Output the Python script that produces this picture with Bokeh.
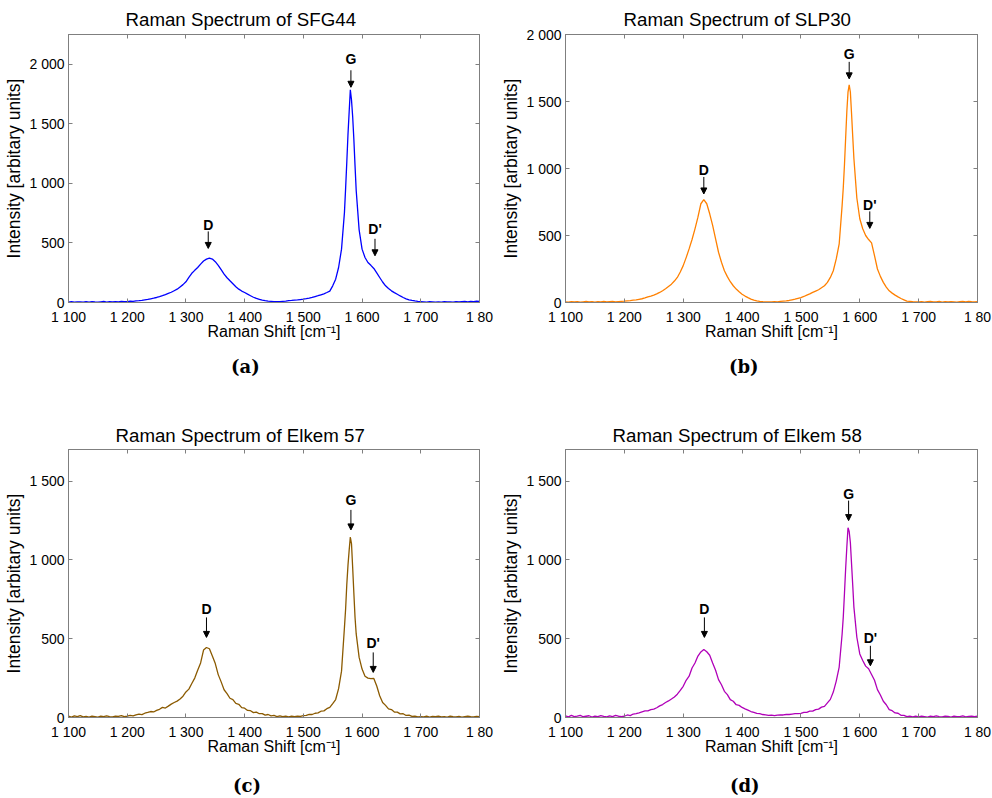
from bokeh.plotting import figure
from bokeh.models import LinearAxis, FixedTicker, Range1d, Label, Arrow, NormalHead, Div
from bokeh.layouts import column, row
from bokeh.embed import file_html
from bokeh.resources import INLINE

# ---------------- data ----------------
# sampling grid of Raman shift [cm^-1]
X = list(range(1100, 1570, 5)) + list(range(1570, 1591, 2)) + list(range(1595, 1801, 5))

SFG44 = ([4, 7, 3, 6, 5, 2, 7, 4, 8, 5, 3, 6, 9, 4, 7, 5, 8, 6, 10, 7]
         + [8, 11, 9, 13, 15, 18, 22, 26, 31, 36, 42, 49, 57, 66, 76, 86, 99, 112, 131, 150]
         + [174, 210, 245, 270, 294, 322, 348, 364, 372, 365, 343, 312, 276, 238, 208, 182, 157, 132, 112, 96]
         + [84, 70, 57, 44, 34, 27, 20, 15, 11, 9, 7, 8, 8, 10, 12, 15, 17, 20, 22, 25]
         + [28, 32, 37, 43, 50, 57, 65, 73, 84, 96, 140, 196, 294, 448]
         + [757, 960, 1180, 1410, 1600, 1785, 1700, 1560, 1370, 1149, 940]
         + [610, 448, 378, 336, 312, 286, 248, 210, 172, 140, 117, 98, 83, 69, 55, 42, 31, 22, 17, 13, 10]
         + [8, 6, 4, 7, 5, 3, 6, 4, 7, 5, 6, 4, 8, 5, 7, 9, 6, 10, 8, 11, 9])

SLP30 = ([5, 3, 7, 4, 6, 2, 5, 8, 4, 6, 3, 7, 5, 9, 4, 6, 8, 5, 7, 9]
         + [10, 12, 14, 17, 20, 24, 28, 34, 42, 48, 55, 64, 75, 88, 103, 120, 137, 160, 187, 228]
         + [275, 335, 400, 470, 550, 637, 737, 767, 737, 662, 575, 475, 375, 300, 237, 193, 155, 125, 100, 80]
         + [62, 48, 36, 25, 18, 12, 8, 6, 5, 4, 5, 6, 5, 8, 10, 12, 15, 20, 25, 31]
         + [37, 45, 55, 64, 75, 85, 95, 110, 125, 150, 187, 237, 325, 437]
         + [725, 860, 1030, 1230, 1425, 1570, 1625, 1570, 1410, 1240, 1075]
         + [780, 625, 550, 500, 470, 445, 350, 250, 195, 150, 115, 87, 70, 55, 42, 30, 20, 10, 8, 6, 5]
         + [4, 7, 3, 6, 8, 4, 5, 9, 3, 6, 4, 7, 5, 3, 6, 8, 5, 9, 6, 4, 7])

ELKEM57 = ([8, 3, 10, 5, 12, 4, 7, 2, 9, 6, 3, 8, 5, 11, 6, 4, 9, 7, 12, 6]
           + [8, 14, 10, 17, 21, 18, 27, 32, 38, 35, 45, 52, 64, 60, 72, 85, 95, 104, 117, 135]
           + [162, 180, 216, 250, 300, 346, 428, 444, 436, 390, 342, 272, 226, 176, 152, 122, 113, 89, 84, 63]
           + [59, 45, 43, 31, 34, 24, 25, 15, 19, 10, 13, 6, 10, 5, 9, 4, 8, 6, 9, 7]
           + [12, 13, 20, 19, 27, 29, 40, 42, 56, 64, 88, 114, 183, 294]
           + [572, 690, 845, 965, 1060, 1145, 1102, 950, 790, 636, 530]
           + [381, 307, 262, 250, 246, 248, 200, 138, 95, 77, 55, 50, 35, 34, 23, 24, 13, 15, 7, 9, 4]
           + [6, 4, 8, 3, 7, 5, 9, 4, 6, 3, 8, 5, 4, 7, 3, 6, 9, 5, 4, 7, 5])

ELKEM58 = ([10, 4, 13, 6, 9, 14, 5, 8, 11, 3, 9, 6, 12, 7, 4, 10, 6, 13, 8, 5]
           + [8, 16, 12, 22, 25, 30, 36, 42, 42, 50, 53, 62, 74, 82, 95, 105, 117, 130, 148, 172]
           + [198, 236, 262, 314, 346, 390, 416, 432, 417, 395, 346, 300, 240, 208, 166, 145, 113, 103, 81, 77]
           + [64, 55, 47, 38, 32, 26, 24, 19, 17, 14, 15, 12, 15, 17, 16, 19, 19, 22, 25, 24]
           + [26, 32, 33, 40, 40, 50, 53, 66, 71, 93, 115, 161, 231, 320]
           + [530, 640, 790, 945, 1081, 1204, 1180, 1110, 975, 840, 700]
           + [509, 403, 362, 326, 309, 273, 236, 177, 143, 103, 81, 50, 43, 29, 27, 14, 13, 5, 9, 4, 8]
           + [4, 9, 6, 3, 8, 5, 10, 6, 4, 8, 7, 3, 9, 5, 6, 10, 4, 7, 9, 5, 8])

# band annotations: (label, Raman shift, intensity at arrow tip)
BANDS_SFG44 = [("D", 1338, 454), ("G", 1581, 1807), ("D'", 1622, 392)]
BANDS_SLP30 = [("D", 1335, 810), ("G", 1582, 1669), ("D'", 1617, 553)]
BANDS_ELKEM57 = [("D", 1335, 508), ("G", 1581, 1190), ("D'", 1619, 286)]
BANDS_ELKEM58 = [("D", 1336, 508), ("G", 1581, 1249), ("D'", 1618, 328)]
# label lift above the arrow tip, in pixels, per band (D, G, D')
LIFT_SFG44 = [23, 28, 27]
LIFT_SLP30 = [24, 25, 23]
LIFT_ELKEM57 = [28, 30, 29]
LIFT_ELKEM58 = [28, 27, 28]

X_TICKS = [1100, 1200, 1300, 1400, 1500, 1600, 1700, 1800]
X_TICK_LABELS = ["1 100", "1 200", "1 300", "1 400", "1 500", "1 600", "1 700", "1 80"]
Y_TICKS_2000 = [0, 500, 1000, 1500, 2000]
Y_TICK_LABELS_2000 = ["0", "500", "1 000", "1 500", "2 000"]
Y_TICKS_1500 = [0, 500, 1000, 1500]
Y_TICK_LABELS_1500 = ["0", "500", "1 000", "1 500"]

for s in (SFG44, SLP30, ELKEM57, ELKEM58):
    assert len(s) == len(X), (len(s), len(X))

# ---------------- styling ----------------
SANS = "Liberation Sans"
GRAY = "#7f7f7f"
FRAME_H = 268


def panel(title, ys, color, ymax, yticks, ylabels, bands, lifts,
          w, h, bl, br, bt, bb, title_off, title_standoff, shaft):
    p = figure(width=w, height=h, x_range=Range1d(1100, 1800), y_range=Range1d(0, ymax),
               output_backend="svg", toolbar_location=None,
               min_border_left=bl, min_border_right=br, min_border_top=bt, min_border_bottom=bb,
               background_fill_color="white", border_fill_color="white")
    p.line(X, ys, line_color=color, line_width=1.3)
    p.xgrid.visible = False
    p.ygrid.visible = False
    p.outline_line_color = GRAY

    p.title.text = title
    p.title.align = "left"
    p.title.offset = title_off
    p.title.text_font = SANS
    p.title.text_font_size = "18.7px"
    p.title.text_font_style = "normal"
    p.title.text_color = "black"
    p.title.standoff = title_standoff

    xa = p.xaxis[0]
    xa.ticker = FixedTicker(ticks=X_TICKS)
    xa.major_label_overrides = dict(zip(X_TICKS, X_TICK_LABELS))
    xa.axis_label = "Raman Shift [cm\u207b\u00b9]"
    ya = p.yaxis[0]
    ya.ticker = FixedTicker(ticks=yticks)
    ya.major_label_overrides = dict(zip(yticks, ylabels))
    ya.axis_label = "Intensity [arbitary units]"
    for ax in (xa, ya):
        ax.axis_line_color = GRAY
        ax.major_tick_line_color = GRAY
        ax.minor_tick_line_color = None
        ax.major_tick_in = 4
        ax.major_tick_out = 0
        ax.major_label_text_font = SANS
        ax.major_label_text_font_size = "14px"
        ax.major_label_text_color = "black"
        ax.axis_label_text_font = SANS
        ax.axis_label_text_font_style = "normal"
        ax.axis_label_text_color = "black"
    xa.axis_label_text_font_size = "16px"
    ya.axis_label_text_font_size = "17.5px"
    xa.major_label_standoff = 6
    xa.axis_label_standoff = -5
    ya.major_label_standoff = 4
    ya.axis_label_standoff = 2

    # mirrored ticks on top and right
    for side, ticks in (("above", X_TICKS), ("right", yticks)):
        m = LinearAxis(ticker=FixedTicker(ticks=ticks),
                       major_label_text_font_size="0px", major_label_standoff=0,
                       major_label_overrides={t: "" for t in ticks},
                       major_tick_in=4, major_tick_out=0, minor_tick_line_color=None,
                       axis_line_color=GRAY, major_tick_line_color=GRAY)
        p.add_layout(m, side)

    unit = ymax / FRAME_H
    for (txt, bx, by), lift in zip(bands, lifts):
        p.add_layout(Arrow(end=NormalHead(size=6, fill_color="black", line_color="black", line_width=1),
                           x_start=bx, y_start=by + shaft * unit, x_end=bx, y_end=by,
                           line_color="black", line_width=1))
        p.add_layout(Label(x=bx, y=by, y_offset=lift, text=txt, text_align="center",
                           text_baseline="alphabetic", text_font=SANS,
                           text_font_style="bold", text_font_size="14px", text_color="black"))
    return p


def letter(txt, pad_left, pad_top, w, h):
    style = ("padding-left:%dpx;padding-top:%dpx;font-family:'DejaVu Serif',serif;"
             "font-weight:bold;font-size:18px;line-height:20px;color:black;white-space:nowrap;"
             % (pad_left, pad_top))
    return Div(text='<div style="%s">%s</div>' % (style, txt), width=w, height=h, margin=0)


pa = panel("Raman Spectrum of SFG44", SFG44, "#0000ff", 2250, Y_TICKS_2000, Y_TICK_LABELS_2000,
           BANDS_SFG44, LIFT_SFG44, 496, 350, 68, 17, 34, 48, 57, 9, 17)
pb = panel("Raman Spectrum of SLP30", SLP30, "#ff8000", 2000, Y_TICKS_2000, Y_TICK_LABELS_2000,
           BANDS_SLP30, LIFT_SLP30, 496, 350, 69, 15, 34, 48, 58, 9, 17)
pc = panel("Raman Spectrum of Elkem 57", ELKEM57, "#8b5a00", 1700, Y_TICKS_1500, Y_TICK_LABELS_1500,
           BANDS_ELKEM57, LIFT_ELKEM57, 496, 348, 68, 17, 32, 48, 47, 8, 20)
pd = panel("Raman Spectrum of Elkem 58", ELKEM58, "#b000b8", 1700, Y_TICKS_1500, Y_TICK_LABELS_1500,
           BANDS_ELKEM58, LIFT_ELKEM58, 496, 348, 69, 15, 32, 48, 47, 8, 20)

la = letter("(a)", 231, 7, 496, 67)
lb = letter("(b)", 233, 7, 496, 67)
lc = letter("(c)", 233, 11, 496, 33)
ld = letter("(d)", 234, 11, 496, 33)

layout = column(row(pa, pb), row(la, lb), row(pc, pd), row(lc, ld))
open("out.html", "w").write(file_html(layout, INLINE))
